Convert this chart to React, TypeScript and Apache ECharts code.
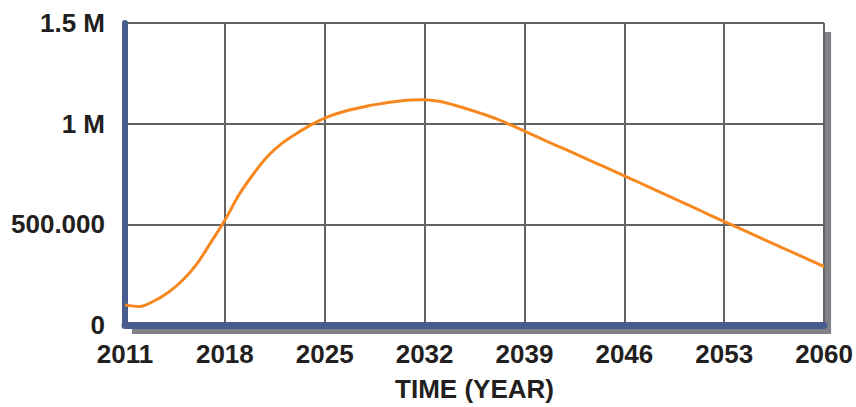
import React, { useEffect, useRef } from "react";
import * as echarts from "echarts";

const years: string[] = [];
for (let y = 2011; y <= 2060; y++) years.push(String(y));

const populationK: number[] = [
  100, 92, 118, 160, 220, 300, 408, 520, 648, 750,
  838, 902, 950, 993, 1028, 1053, 1072, 1088, 1100, 1110,
  1117, 1119, 1111, 1094, 1073, 1050, 1025, 995, 963, 931,
  899, 868, 836, 804, 773, 741, 709, 676, 644, 611,
  579, 546, 514, 482, 450, 418, 386, 354, 322, 290,
];

const yTickValues = [0, 500000, 1000000, 1500000];
const yTickLabels = ["0", "500.000", "1 M", "1.5 M"];
const xAxisName = "TIME (YEAR)";

const FONT = "'Liberation Sans', Arial, Helvetica, sans-serif";
const BLUE = "#485D8D";
const GRIDC = "#636363";
const ORANGE = "#F7881F";
const TEXT = "#231F20";

export default function App() {
  const ref = useRef<HTMLDivElement>(null);
  useEffect(() => {
    if (!ref.current) return;
    const chart = echarts.init(ref.current, null, { renderer: "svg" });
    chart.setOption({
      animation: false,
      backgroundColor: "#ffffff",
      grid: {
        show: true,
        left: 125,
        right: 31,
        top: 23,
        bottom: 82,
        backgroundColor: "#ffffff",
        borderWidth: 0,
        shadowColor: "#818186",
        shadowBlur: 0,
        shadowOffsetX: 7,
        shadowOffsetY: 9,
      },
      xAxis: {
        type: "category",
        data: years,
        boundaryGap: false,
        name: xAxisName,
        nameLocation: "middle",
        nameGap: 51,
        nameTextStyle: { fontFamily: FONT, fontWeight: "bold", fontSize: 26, color: TEXT },
        axisLine: { show: true, lineStyle: { color: BLUE, width: 7 } },
        axisTick: { show: false },
        axisLabel: {
          interval: 6,
          margin: 16,
          fontFamily: FONT,
          fontWeight: "bold",
          fontSize: 26,
          color: TEXT,
        },
        splitLine: { show: true, interval: 6, lineStyle: { color: GRIDC, width: 2 } },
      },
      yAxis: {
        type: "value",
        min: 0,
        max: 1500000,
        interval: 500000,
        axisLine: { show: true, lineStyle: { color: BLUE, width: 6 } },
        axisTick: { show: false },
        axisLabel: {
          margin: 20,
          fontFamily: FONT,
          fontWeight: "bold",
          fontSize: 26,
          color: TEXT,
          formatter: (v: number) => {
            const i = yTickValues.indexOf(v);
            return i >= 0 ? yTickLabels[i] : "";
          },
        },
        splitLine: { show: true, lineStyle: { color: GRIDC, width: 2 } },
      },
      series: [
        {
          type: "line",
          data: populationK.map((v) => v * 1000),
          smooth: 0.35,
          showSymbol: false,
          lineStyle: { color: ORANGE, width: 3 },
          z: 1,
        },
      ],
    });
    return () => chart.dispose();
  }, []);
  return (
    <div
      ref={ref}
      style={{ position: "absolute", left: 0, top: 0, width: 856, height: 407 }}
    />
  );
}
